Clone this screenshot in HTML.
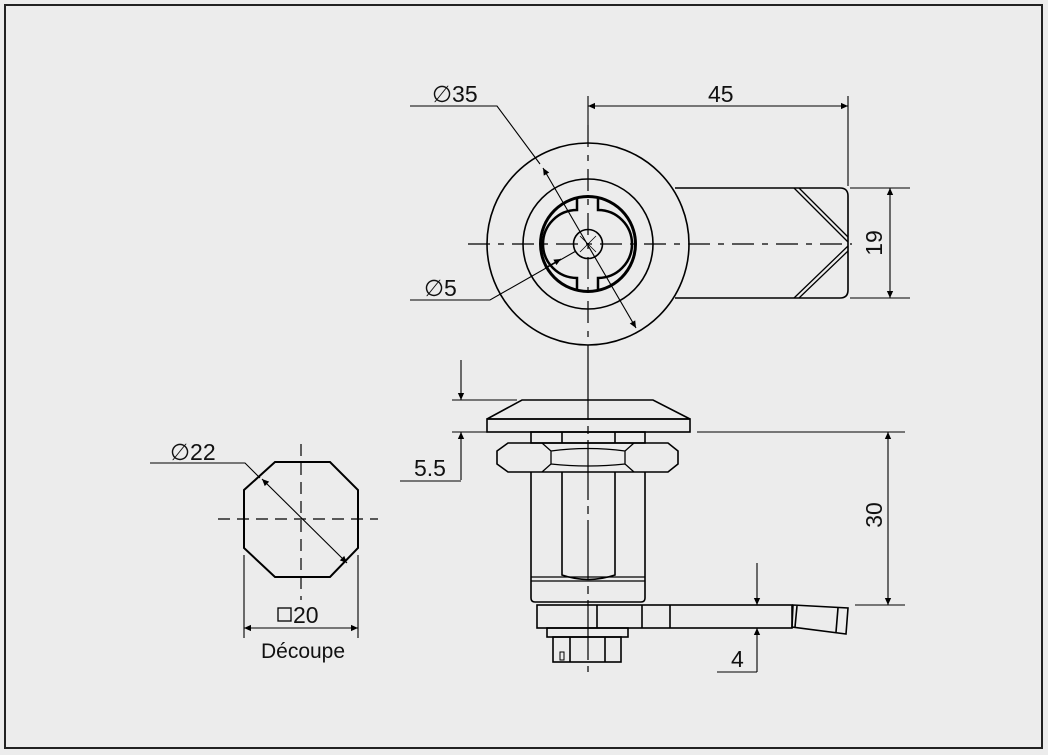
<!DOCTYPE html>
<html><head><meta charset="utf-8"><style>
html,body{margin:0;padding:0;background:#ececec;}
svg{display:block;}
text{font-family:"Liberation Sans",sans-serif;fill:#111;}
</style></head><body>
<svg width="1048" height="755" viewBox="0 0 1048 755" xmlns="http://www.w3.org/2000/svg">
<defs>
<marker id="a" viewBox="0 0 10 10" refX="10" refY="5" markerWidth="17" markerHeight="7" markerUnits="userSpaceOnUse" orient="auto-start-reverse"><path d="M0,0.5 L10,5 L0,9.5 z" fill="#000"/></marker>
</defs>
<rect x="0" y="0" width="1048" height="755" fill="#ececec"/>
<rect x="5" y="5" width="1037" height="743" fill="none" stroke="#222" stroke-width="2"/>
<g fill="none" stroke="#000" stroke-width="1.6">
<circle cx="588" cy="244" r="101"/>
<circle cx="588" cy="244" r="65"/>
<circle cx="588" cy="244" r="47.5" stroke-width="3"/>
<path d="M577,197 V210 A32,32 0 0 0 577,278 V291 M598,197 V210 A32,32 0 0 1 598,278 V291" stroke-width="2.5"/>
<circle cx="588" cy="244" r="14.5"/>
<path d="M675,188 H840 Q848,188 848,196 V290 Q848,298 840,298 H675"/>
<path d="M794,188 L848,242 M799,188 L848,237 M794,298 L848,246 M799,298 L848,251" stroke-width="1.3"/>
<g stroke-width="1.2" stroke-dasharray="22,8,6,8">
<line x1="468" y1="244" x2="852" y2="244"/>
<line x1="588" y1="125" x2="588" y2="360"/>
</g>
<line x1="580" y1="236" x2="596" y2="252" stroke-width="0.8"/><line x1="596" y1="236" x2="580" y2="252" stroke-width="0.8"/>
<g stroke-width="1.1">
<line x1="588" y1="96" x2="588" y2="125"/>
<line x1="848" y1="96" x2="848" y2="186"/>
<line x1="588" y1="106" x2="848" y2="106" marker-start="url(#a)" marker-end="url(#a)"/>
<line x1="850" y1="188" x2="910" y2="188"/>
<line x1="850" y1="298" x2="910" y2="298"/>
<line x1="890" y1="188" x2="890" y2="298" marker-start="url(#a)" marker-end="url(#a)"/>
<polyline points="410,106 497,106 540,164"/>
<line x1="543" y1="168" x2="636" y2="328" marker-start="url(#a)" marker-end="url(#a)"/>
<polyline points="410,300 490,300 576,251"/>
<line x1="545" y1="268" x2="561" y2="259" marker-end="url(#a)"/>
</g>
<path d="M522,400 H653 L690,419 H487 Z"/>
<rect x="487" y="419" width="203" height="13"/>
<rect x="531" y="432" width="114" height="11"/>
<line x1="562" y1="432" x2="562" y2="443"/><line x1="615" y1="432" x2="615" y2="443"/>
<path d="M508,443 H668 L678,451 V464 L668,472 H508 L497,464 V451 Z"/>
<path d="M542,443 L551,451 V464 L542,472 M634,443 L625,451 V464 L634,472 M551,451 Q588,446 625,451 M551,464 Q588,468 625,464" stroke-width="1.3"/>
<path d="M531,472 V598 Q531,602 535,602 H641 Q645,602 645,598 V472"/>
<path d="M562,472 V575 Q588,584 615,575 V472"/>
<line x1="531" y1="577" x2="645" y2="577" stroke-width="1.2"/>
<line x1="531" y1="581" x2="645" y2="581" stroke-width="1.2"/>
<rect x="537" y="605" width="255" height="23"/>
<line x1="597" y1="605" x2="597" y2="628"/><line x1="642" y1="605" x2="642" y2="628"/><line x1="670" y1="605" x2="670" y2="628"/>
<path d="M793,605 L848,608 L846,634 L792,627 Z"/>
<line x1="797" y1="606" x2="795" y2="627"/><line x1="838" y1="608" x2="836" y2="632"/>
<rect x="547" y="628" width="81" height="9"/>
<rect x="553" y="637" width="68" height="25"/>
<line x1="570" y1="637" x2="570" y2="662"/><line x1="605" y1="637" x2="605" y2="662"/>
<rect x="560" y="652" width="4" height="8" stroke-width="1"/>
<line x1="588" y1="360" x2="588" y2="672" stroke-width="1.2" stroke-dasharray="60,6,8,6"/>
<g stroke-width="1.1">
<line x1="452" y1="400" x2="517" y2="400"/>
<line x1="452" y1="432" x2="487" y2="432"/>
<line x1="461" y1="360" x2="461" y2="400" marker-end="url(#a)"/>
<line x1="461" y1="480" x2="461" y2="432" marker-end="url(#a)"/>
<line x1="400" y1="481" x2="461" y2="481"/>
<line x1="697" y1="432" x2="905" y2="432"/>
<line x1="855" y1="605" x2="905" y2="605"/>
<line x1="888" y1="432" x2="888" y2="605" marker-start="url(#a)" marker-end="url(#a)"/>
<line x1="757" y1="563" x2="757" y2="605" marker-end="url(#a)"/>
<line x1="757" y1="672" x2="757" y2="628" marker-end="url(#a)"/>
<line x1="717" y1="672" x2="757" y2="672"/>
</g>
<path d="M275,462 H330 L358,490 V548 L330,577 H275 L244,548 V490 Z" stroke-width="2"/>
<g stroke-width="1.2" stroke-dasharray="12,7">
<line x1="218" y1="519" x2="378" y2="519"/>
<line x1="301" y1="444" x2="301" y2="600"/>
</g>
<g stroke-width="1.1">
<polyline points="150,463 245,463 260,478"/>
<line x1="262" y1="479" x2="347" y2="563" marker-start="url(#a)" marker-end="url(#a)"/>
<line x1="244" y1="555" x2="244" y2="638"/>
<line x1="358" y1="555" x2="358" y2="638"/>
<line x1="244" y1="628" x2="358" y2="628" marker-start="url(#a)" marker-end="url(#a)"/>
</g>
<rect x="278" y="608" width="13" height="13" stroke-width="1.3"/>
</g>
<g font-size="23">
<text x="432" y="102">∅35</text>
<text x="708" y="102">45</text>
<text x="424" y="296">∅5</text>
<text transform="translate(882,243) rotate(-90)" text-anchor="middle">19</text>
<text x="414" y="476">5.5</text>
<text transform="translate(882,515) rotate(-90)" text-anchor="middle">30</text>
<text x="731" y="667">4</text>
<text x="170" y="460">∅22</text>
<text x="293" y="623">20</text>
<text x="303" y="658" text-anchor="middle" font-size="21">Découpe</text>
</g>
</svg>
</body></html>
